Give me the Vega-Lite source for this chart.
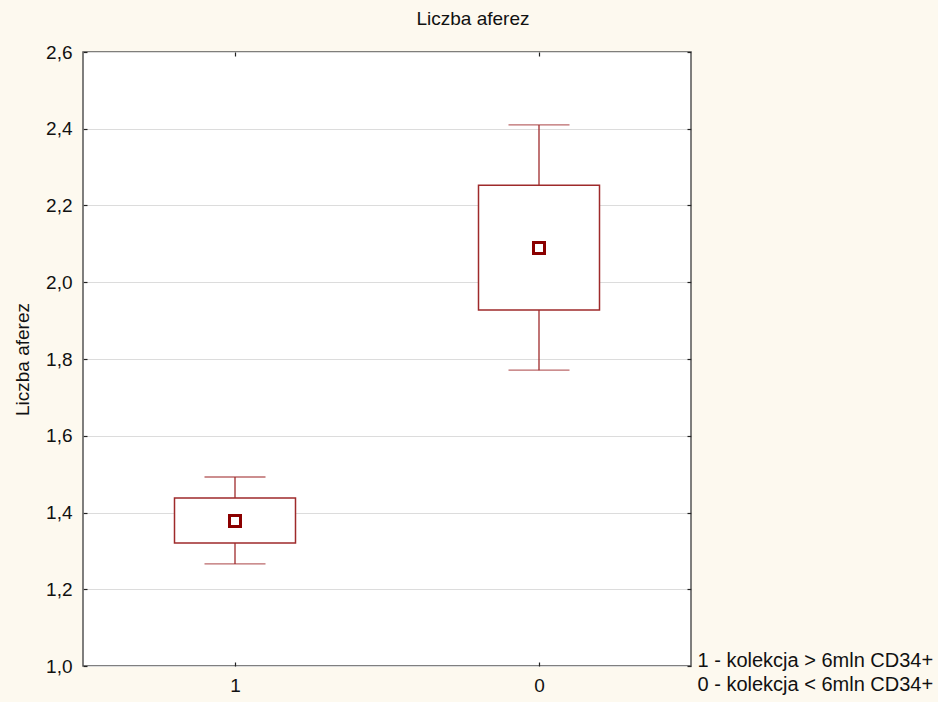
{
  "$schema": "https://vega.github.io/schema/vega-lite/v6.json",
  "autosize": "none",
  "width": 608,
  "height": 614,
  "padding": {"left": 83, "top": 52, "right": 247, "bottom": 36},
  "background": "#fdf9ef",
  "config": {
    "font": "Liberation Sans",
    "view": {"stroke": "#555555", "strokeWidth": 1.5, "fill": "white"},
    "axis": {"labelFont": "Liberation Sans", "titleFont": "Liberation Sans", "labelColor": "#111", "titleColor": "#111", "labelFontSize": 19, "titleFontSize": 19, "titleFontWeight": "normal", "domain": false, "tickColor": "#222", "tickSize": 4, "tickWidth": 1.2, "grid": false}
  },
  "title": {"text": "Liczba aferez", "fontSize": 19, "fontWeight": "normal", "font": "Liberation Sans", "color": "#111", "dx": 86, "offset": 14, "anchor": "middle", "frame": "group"},
  "data": {"values": [
    {"grupa": "1", "wlo": 1.266, "q1": 1.3205, "q3": 1.438, "whi": 1.4925, "srednia": 1.378},
    {"grupa": "0", "wlo": 1.771, "q1": 1.928, "q3": 2.253, "whi": 2.41, "srednia": 2.089}
  ]},
  "resolve": {"axis": {"x": "independent", "y": "independent"}},
  "layer": [
    {
      "mark": {"type": "rule", "color": "#9e2a2b", "strokeWidth": 1.3},
      "encoding": {
        "x": {"field": "grupa", "type": "nominal", "sort": ["1", "0"], "scale": {"type": "point", "padding": 0.5},
          "axis": {"labelAngle": 0, "ticks": false, "labelPadding": 10, "title": ["1 - kolekcja > 6mln CD34+", "0 - kolekcja < 6mln CD34+"], "titleAnchor": "start", "titleAlign": "left", "titleX": 614, "titleY": 0, "titleBaseline": "alphabetic", "titleLineHeight": 24, "titleFontSize": 20}},
        "y": {"field": "wlo", "type": "quantitative", "scale": {"domain": [1.0, 2.6], "nice": false, "zero": false},
          "axis": {"values": [1.0, 1.2, 1.4, 1.6, 1.8, 2.0, 2.2, 2.4, 2.6], "ticks": false, "labelExpr": "replace(format(datum.value, '.1f'), '.', ',')", "grid": true, "gridColor": "#dcdcdc", "gridWidth": 1, "labelPadding": 11, "title": "Liczba aferez", "titleX": -61, "titleBaseline": "middle"}},
        "y2": {"field": "whi"}
      }
    },
    {
      "mark": {"type": "tick", "color": "#9e2a2b", "thickness": 1.3, "size": 61, "orient": "horizontal"},
      "encoding": {
        "x": {"field": "grupa", "type": "nominal", "sort": ["1", "0"], "axis": {"orient": "top", "labels": false, "title": null, "offset": -4}},
        "y": {"field": "wlo", "type": "quantitative", "axis": {"orient": "right", "labels": false, "title": null, "offset": -4, "values": [1.0, 1.2, 1.4, 1.6, 1.8, 2.0, 2.2, 2.4, 2.6]}}
      }
    },
    {
      "mark": {"type": "tick", "color": "#9e2a2b", "thickness": 1.3, "size": 61, "orient": "horizontal"},
      "encoding": {
        "x": {"field": "grupa", "type": "nominal", "sort": ["1", "0"], "axis": {"orient": "bottom", "labels": false, "title": null, "offset": -4}},
        "y": {"field": "whi", "type": "quantitative", "axis": {"orient": "left", "labels": false, "title": null, "offset": -4, "values": [1.0, 1.2, 1.4, 1.6, 1.8, 2.0, 2.2, 2.4, 2.6]}}
      }
    },
    {
      "mark": {"type": "bar", "fill": "white", "stroke": "#9e2a2b", "strokeWidth": 1.5, "width": 121},
      "encoding": {
        "x": {"field": "grupa", "type": "nominal", "sort": ["1", "0"], "axis": null},
        "y": {"field": "q1", "type": "quantitative", "axis": null},
        "y2": {"field": "q3"}
      }
    },
    {
      "mark": {"type": "point", "shape": "square", "filled": false, "color": "#8b0000", "strokeWidth": 3, "size": 121, "opacity": 1},
      "encoding": {
        "x": {"field": "grupa", "type": "nominal", "sort": ["1", "0"], "axis": null},
        "y": {"field": "srednia", "type": "quantitative", "axis": null}
      }
    }
  ]
}
